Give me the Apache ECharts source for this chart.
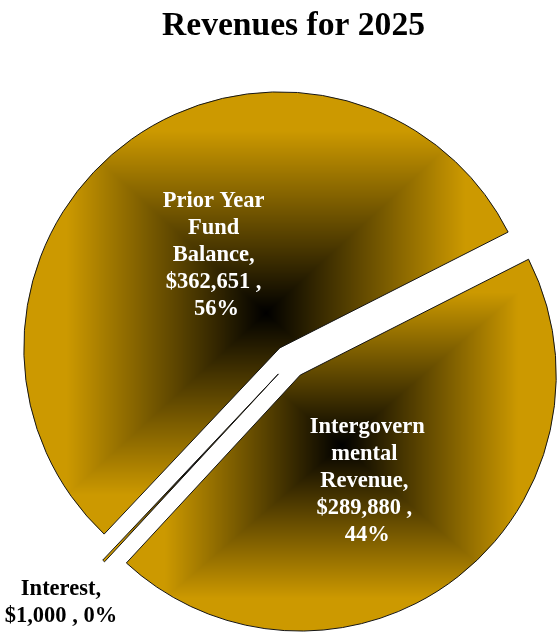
<!DOCTYPE html>
<html>
<head>
<meta charset="utf-8">
<script src="https://cdn.jsdelivr.net/npm/echarts@6/dist/echarts.min.js"></script>
<style>
  html, body { margin: 0; padding: 0; background: #ffffff; }
  #chart { width: 558px; height: 632px; }
</style>
</head>
<body>
<div id="chart"></div>
<script>
// Revenue sources and amounts (clockwise from the upper-right gap)
const categories = ['Intergovernmental Revenue', 'Interest', 'Prior Year Fund Balance'];
const revenues = [289880, 1000, 362651];
const chartTitle = 'Revenues for 2025';

const GOLD = [204, 153, 0];
const FONT = 'Liberation Serif';

const money = v => '$' + v.toLocaleString('en-US');

// Rectangular "from centre" gradient: black in the middle of the box, gold at its rim
function pathGradient(w, h) {
  w = Math.max(1, Math.ceil(w));
  h = Math.max(1, Math.ceil(h));
  const c = document.createElement('canvas');
  c.width = w; c.height = h;
  const ctx = c.getContext('2d');
  const img = ctx.createImageData(w, h);
  const hw = w / 2, hh = h / 2;
  for (let y = 0; y < h; y++) {
    for (let x = 0; x < w; x++) {
      const t = Math.max(Math.abs(x + 0.5 - hw) / hw, Math.abs(y + 0.5 - hh) / hh);
      const k = Math.min(1, t / 0.82);
      const i = (y * w + x) * 4;
      img.data[i] = GOLD[0] * k;
      img.data[i + 1] = GOLD[1] * k;
      img.data[i + 2] = GOLD[2] * k;
      img.data[i + 3] = 255;
    }
  }
  ctx.putImageData(img, 0, 0);
  return c;
}

// Label nudges (dx, dy) per slice
const labelShift = [[-12, 2], [-128, 133], [15, 12]];

function buildData(fills) {
  return categories.map((name, i) => {
    const item = { name, value: revenues[i], selected: true };
    if (fills) item.itemStyle = { color: fills[i] };
    if (name === 'Interest') {
      item.label = {
        color: '#000000',
        width: 160,
        formatter: p => p.name + ',\n' + money(p.value) + ' , ' + p.percent + '%'
      };
    }
    return item;
  });
}

const chart = echarts.init(document.getElementById('chart'), null, { renderer: 'canvas' });

chart.setOption({
  animation: false,
  backgroundColor: '#ffffff',
  title: {
    text: chartTitle,
    left: 157,
    top: 4,
    textStyle: { fontFamily: FONT, fontWeight: 'bold', fontSize: 33.6, color: '#000000' }
  },
  series: [{
    type: 'pie',
    center: [290, 361.5],
    radius: 256,
    startAngle: 26.9,
    clockwise: true,
    percentPrecision: 0,
    avoidLabelOverlap: false,
    selectedMode: 'multiple',
    selectedOffset: 17,
    emphasis: { disabled: true },
    itemStyle: { color: 'rgb(204,153,0)', borderColor: '#151515', borderWidth: 1 },
    select: { itemStyle: { borderColor: '#151515', borderWidth: 1 } },
    label: {
      show: true,
      position: 'inside',
      color: '#ffffff',
      fontFamily: FONT,
      fontWeight: 'bold',
      fontSize: 22.5,
      lineHeight: 27,
      align: 'center',
      width: 119,
      overflow: 'break',
      formatter: p => p.name + ', ' + money(p.value) + ' , ' + p.percent + '%'
    },
    labelLine: { show: false },
    labelLayout: p => ({ dx: labelShift[p.dataIndex][0], dy: labelShift[p.dataIndex][1] }),
    data: buildData(null)
  }]
});

// Give every slice its own gradient sized to that slice's box
const seriesData = chart.getModel().getSeriesByIndex(0).getData();
const fills = categories.map((_, i) => {
  const el = seriesData.getItemGraphicEl(i);
  const r = el.getBoundingRect();
  return {
    image: pathGradient(r.width, r.height),
    repeat: 'no-repeat',
    x: r.x,
    y: r.y
  };
});
chart.setOption({ series: [{ data: buildData(fills) }] });
</script>
</body>
</html>
